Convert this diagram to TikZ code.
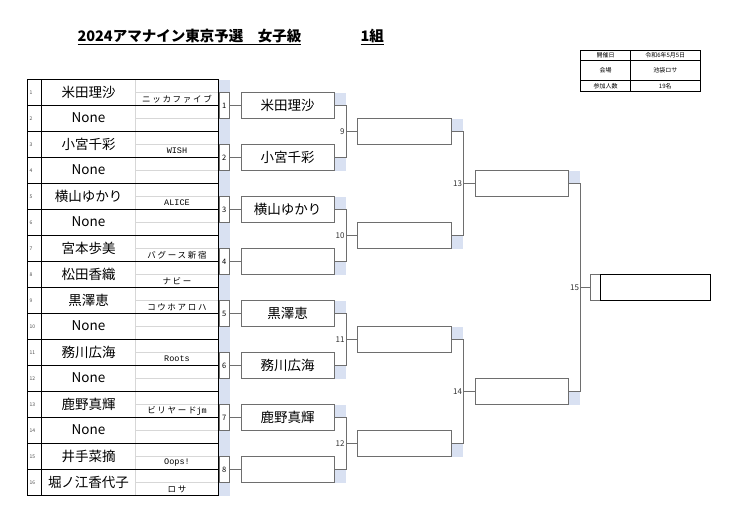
\documentclass[tikz,border=0pt]{standalone}
\usepackage{fontspec}
\setmainfont{Noto Sans CJK JP}
\newfontfamily\teamjp[LetterSpace=20]{Noto Sans CJK JP}
\newfontfamily\teamlat{Liberation Mono}
\usetikzlibrary{calc}
\definecolor{bluestrip}{RGB}{217,225,242}
\definecolor{brkgray}{RGB}{110,110,110}
\definecolor{lightln}{RGB}{215,215,215}
\begin{document}
\begin{tikzpicture}[x=1pt,y=-1pt,
  every node/.style={inner sep=0pt,outer sep=0pt},
  tline/.style={black,line width=0.9pt},
  lline/.style={lightln,line width=0.6pt},
  brk/.style={draw=brkgray,line width=0.8pt},
  namefont/.style={font=\fontsize{13.5}{14}\selectfont},
  numtxt/.style={font=\fontsize{5}{5}\selectfont,text=black!70,anchor=west},
  teamtxt/.style={font=\teamjp\fontsize{8.5}{9}\selectfont},
  teamlt/.style={font=\teamlat\fontsize{8.5}{9}\selectfont},
  mbox/.style={brk,fill=white,rectangle,minimum width=10.5pt,minimum height=26pt,font=\fontsize{7.5}{7.5}\selectfont},
  pbox/.style={brk,fill=white,rectangle,minimum height=26pt,namefont},
  lbl/.style={font=\fontsize{8}{8}\selectfont,text=black!80,anchor=east},
  infotxt/.style={font=\fontsize{6}{6}\selectfont}
]
\useasboundingbox (0,0) rectangle (740,523);
\fill[white] (0,0) rectangle (740,523);

% ---------- title ----------
\node[anchor=base west,font=\fontsize{14.5}{15}\selectfont\bfseries] (title) at (77.5,41) {2024アマナイン東京予選　女子級};
\draw[line width=1.2pt] ($(title.base west)+(0,3.2)$) -- ($(title.base east)+(0,3.2)$);
\node[anchor=base west,font=\fontsize{14.5}{15}\selectfont\bfseries] (group) at (360.5,41) {1組};
\draw[line width=1.2pt] ($(group.base west)+(0,3.2)$) -- ($(group.base east)+(0,3.2)$);

% ---------- info table ----------
\draw[line width=0.6pt] (580.5,50) rectangle (700,91.7);
\draw[line width=0.6pt] (630.5,50) -- (630.5,91.7);
\draw[line width=0.6pt] (580.5,60) -- (700,60);
\draw[line width=0.6pt] (580.5,80) -- (700,80);
\node[infotxt] (i1) at (605.5,55) {開催日};
\node[infotxt] (i2) at (665.25,55) {令和6年5月5日};
\node[infotxt] (i3) at (605.5,70) {会場};
\node[infotxt] (i4) at (665.25,70) {池袋ロサ};
\node[infotxt] (i5) at (605.5,86) {参加人数};
\node[infotxt] (i6) at (665.25,86) {19名};

% ---------- left table ----------
\fill[bluestrip] (219,79.5) rectangle (229.5,495.5);
% light lines in team column
\foreach \i in {1,...,16}{
  \draw[lline] (135.5,{79.5+26*(\i-1)+13}) -- (218.5,{79.5+26*(\i-1)+13});
}
\draw[lline] (135.5,79.5) -- (135.5,495.5);
% row lines
\foreach \i in {1,...,15}{
  \draw[tline] (27.5,{79.5+26*\i}) -- (218.5,{79.5+26*\i});
}
\draw[black,line width=1pt] (41.5,79.5) -- (41.5,495.5);
\draw[black,line width=1.2pt] (27.5,79.5) rectangle (218.5,495.5);

% numbers and names
\foreach \i/\nm in {1/米田理沙,2/None,3/小宮千彩,4/None,5/横山ゆかり,6/None,7/宮本歩美,8/松田香織,9/黒澤恵,10/None,11/務川広海,12/None,13/鹿野真輝,14/None,15/井手菜摘,16/堀ノ江香代子}{
  \node[numtxt] (n\i) at (29.5,{79.5+26*(\i-1)+13}) {\i};
  \node[namefont] (p\i) at (88.5,{79.5+26*(\i-1)+12.5}) {\nm};
}
% team names
\node[teamtxt] (t1) at (177,{79.5+19.5}) {ニッカファイブ};
\node[teamlt] (t3) at (177,{79.5+26*2+19.5}) {WISH};
\node[teamlt] (t5) at (177,{79.5+26*4+19.5}) {ALICE};
\node[teamtxt] (t7) at (177,{79.5+26*6+19.5}) {バグース新宿};
\node[teamtxt] (t8) at (177,{79.5+26*7+19.5}) {ナビー};
\node[teamtxt] (t9) at (177,{79.5+26*8+19.5}) {コウホアロハ};
\node[teamlt] (t11) at (177,{79.5+26*10+19.5}) {Roots};
\node[teamtxt] (t13) at (177,{79.5+26*12+19.5}) {ビリヤード{\teamlat jm}};
\node[teamlt] (t15) at (177,{79.5+26*14+19.5}) {Oops!};
\node[teamtxt] (t16) at (177,{79.5+26*15+19.5}) {ロサ};

% ---------- round 1 match boxes and round 2 ----------
\foreach \k/\nm in {1/米田理沙,2/小宮千彩,3/横山ゆかり,4/{},5/黒澤恵,6/務川広海,7/鹿野真輝,8/{}}{
  \pgfmathsetmacro{\my}{105.5+52*(\k-1)}
  \ifodd\k
    \fill[bluestrip] (334,\my-13) rectangle (346,\my);
  \else
    \fill[bluestrip] (334,\my) rectangle (346,\my+13);
  \fi
  \node[mbox] (m\k) at (224.25,\my) {\k};
  \node[pbox,minimum width=93pt] (r2-\k) at (287.5,\my) {\nm};
  \draw[brk] (m\k.east) -- (r2-\k.west);
}

% ---------- round 3 ----------
\foreach \j in {1,...,4}{
  \pgfmathsetmacro{\my}{131.5+104*(\j-1)}
  \ifodd\j
    \fill[bluestrip] (451.5,\my-13) rectangle (463,\my);
  \else
    \fill[bluestrip] (451.5,\my) rectangle (463,\my+13);
  \fi
  \node[pbox,minimum width=94pt] (r3-\j) at (404.5,\my) {};
}
\foreach \j/\a/\b in {1/1/2,2/3/4,3/5/6,4/7/8}{
  \draw[brk] (r2-\a.east) -- ++(12,0) |- (r3-\j.west);
  \draw[brk] (r2-\b.east) -- ++(12,0) |- (r3-\j.west);
}
\node[lbl] (l9) at (344.5,131.5) {9};
\node[lbl] (l10) at (344.5,235.5) {10};
\node[lbl] (l11) at (344.5,339.5) {11};
\node[lbl] (l12) at (344.5,443.5) {12};

% ---------- round 4 ----------
\fill[bluestrip] (568.5,170.5) rectangle (580,183.5);
\fill[bluestrip] (568.5,391.5) rectangle (580,404.5);
\node[pbox,minimum width=93.5pt] (r4-1) at (521.75,183.5) {};
\node[pbox,minimum width=93.5pt] (r4-2) at (521.75,391.5) {};
\draw[brk] (r3-1.east) -- ++(11.5,0) |- (r4-1.west);
\draw[brk] (r3-2.east) -- ++(11.5,0) |- (r4-1.west);
\draw[brk] (r3-3.east) -- ++(11.5,0) |- (r4-2.west);
\draw[brk] (r3-4.east) -- ++(11.5,0) |- (r4-2.west);
\node[lbl] (l13) at (462,183.5) {13};
\node[lbl] (l14) at (462,391.5) {14};

% ---------- final ----------
\node[brk,rectangle,minimum width=10pt,minimum height=26pt] (fs) at (595.5,287.5) {};
\node[draw=black,line width=1.3pt,rectangle,minimum width=110pt,minimum height=26pt] (fin) at (655.5,287.5) {};
\draw[brk] (r4-1.east) -- ++(11.5,0) |- (fs.west);
\draw[brk] (r4-2.east) -- ++(11.5,0) |- (fs.west);
\node[lbl] (l15) at (579,287.5) {15};
\end{tikzpicture}
\end{document}
